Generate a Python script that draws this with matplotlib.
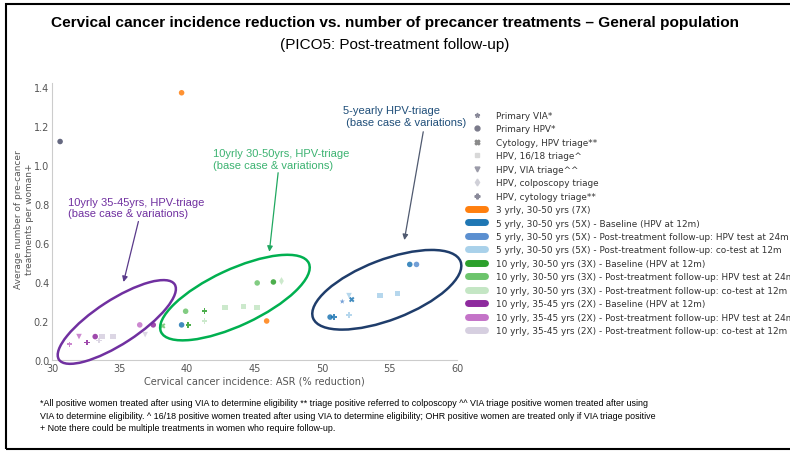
import matplotlib
matplotlib.use("Agg")
import matplotlib.pyplot as plt
from matplotlib.patches import Ellipse
from matplotlib.lines import Line2D
from matplotlib.transforms import ScaledTranslation

# ---------------- data ----------------
strategy_labels = ["Primary VIA*", "Primary HPV*", "Cytology, HPV triage**", "HPV, 16/18 triage^",
                   "HPV, VIA triage^^", "HPV, colposcopy triage", "HPV, cytology triage**"]
strategy_markers = ["*", "o", "X", "s", "v", "d", "P"]
strategy_greys = ["#8a8a9a", "#7a7a8a", "#8a8a8a", "#d8d8d8", "#9a9aa8", "#d0d0d8", "#8a8a9a"]

scenario_labels = ["3 yrly, 30-50 yrs (7X)",
                   "5 yrly, 30-50 yrs (5X) - Baseline (HPV at 12m)",
                   "5 yrly, 30-50 yrs (5X) - Post-treatment follow-up: HPV test at 24m",
                   "5 yrly, 30-50 yrs (5X) - Post-treatment follow-up: co-test at 12m",
                   "10 yrly, 30-50 yrs (3X) - Baseline (HPV at 12m)",
                   "10 yrly, 30-50 yrs (3X) - Post-treatment follow-up: HPV test at 24m",
                   "10 yrly, 30-50 yrs (3X) - Post-treatment follow-up: co-test at 12m",
                   "10 yrly, 35-45 yrs (2X) - Baseline (HPV at 12m)",
                   "10 yrly, 35-45 yrs (2X) - Post-treatment follow-up: HPV test at 24m",
                   "10 yrly, 35-45 yrs (2X) - Post-treatment follow-up: co-test at 12m"]
scenario_colors = ["#ff7f0e", "#1f77b4", "#5b8fd0", "#a9d1ea", "#2ca02c", "#6cc46c",
                   "#c4e6c4", "#8e2a9e", "#c473c8", "#d6cfe0"]

# points: x = incidence reduction (%), y = treatments per woman, scenario index, strategy index
pt_x = [39.6, 45.9, 30.6,
        50.6, 50.9, 56.5, 57.0, 51.5, 52.2, 52.0, 52.0, 55.6, 54.3,
        39.6, 40.1, 38.2, 46.4, 45.2, 39.9, 41.3, 41.3, 47.0, 45.2, 44.2, 42.8,
        32.6, 33.2, 37.5, 31.3, 32.0, 33.5, 36.5, 36.9, 34.5, 33.7]
pt_y = [1.37, 0.20, 1.12,
        0.22, 0.22, 0.49, 0.49, 0.30, 0.31, 0.33, 0.23, 0.34, 0.33,
        0.18, 0.18, 0.175, 0.40, 0.395, 0.25, 0.25, 0.20, 0.405, 0.27, 0.275, 0.27,
        0.09, 0.12, 0.18, 0.08, 0.12, 0.10, 0.18, 0.13, 0.12, 0.12]
pt_scen = [0, 0, 1,
           1, 1, 1, 2, 2, 1, 3, 3, 3, 3,
           1, 4, 5, 4, 5, 5, 4, 6, 6, 6, 6, 6,
           7, 7, 7, 8, 8, 9, 8, 9, 9, 9]
pt_strat = [1, 1, 1,
            1, 6, 1, 1, 0, 2, 4, 6, 3, 3,
            1, 6, 2, 1, 1, 1, 6, 6, 5, 3, 3, 3,
            6, 1, 1, 6, 4, 6, 1, 4, 3, 3]
pt_override_color = {2: "#4a4e6a"}

# ---------------- figure ----------------
W, H = 790, 452
fig = plt.figure(figsize=(W / 100, H / 100), dpi=100)
fig.patch.set_facecolor("white")

# slide frame
fig.add_artist(plt.Rectangle((6 / W, 2 / H), 790 / W, 445 / H, transform=fig.transFigure,
                             fill=False, ec="black", lw=1.5))

fig.text(0.5, 1 - 23 / H, "Cervical cancer incidence reduction vs. number of precancer treatments \u2013 General population",
         ha="center", va="center", fontsize=11.05, fontweight="bold", family="Liberation Sans")
fig.text(0.5, 1 - 45 / H, "(PICO5: Post-treatment follow-up)", ha="center", va="center",
         fontsize=11, family="Liberation Sans")

ax = fig.add_axes([52 / W, (H - 361) / H, 405 / W, 277 / H])
ax.set_xlim(30, 60)
ax.set_ylim(0, 1.42)
for s in ["top", "right"]:
    ax.spines[s].set_visible(False)
for s in ["left", "bottom"]:
    ax.spines[s].set_color("#cccccc")
    ax.spines[s].set_linewidth(0.8)
ax.set_xticks([30, 35, 40, 45, 50, 55, 60])
ax.set_yticks([0.0, 0.2, 0.4, 0.6, 0.8, 1.0, 1.2, 1.4])
ax.set_yticklabels(["0.0", "0.2", "0.4", "0.6", "0.8", "1.0", "1.2", "1.4"])
ax.tick_params(length=0, labelsize=7, labelcolor="#555555", pad=2)
ax.set_xlabel("Cervical cancer incidence: ASR (% reduction)", fontsize=7, color="#555555", labelpad=2)
ax.set_ylabel("Average number of pre-cancer\ntreatments per woman+", fontsize=6.5, color="#555555")
ax.yaxis.set_label_coords(-0.045, 0.51)

for i, (x, y, sc, st) in enumerate(zip(pt_x, pt_y, pt_scen, pt_strat)):
    col = pt_override_color.get(i, scenario_colors[sc])
    ax.scatter(x, y, marker=strategy_markers[st], s=16, color=col,
               edgecolors="none", alpha=0.85, zorder=3)

# ellipses (size in pixels, placed at data centres)
ell_cx = [34.8, 43.55, 54.8]
ell_cy = [0.195, 0.32, 0.36]
ell_w = [138, 163, 158]
ell_h = [44, 56, 60]
ell_ang = [33, 25, 21]
ell_col = ["#7030a0", "#00b050", "#1f3d6b"]
for cx, cy, w, h, a, c in zip(ell_cx, ell_cy, ell_w, ell_h, ell_ang, ell_col):
    tr = fig.dpi_scale_trans + ScaledTranslation(cx, cy, ax.transData)
    fig.add_artist(Ellipse((0, 0), w / 100, h / 100, angle=a, transform=tr,
                           fill=False, ec=c, lw=1.8, zorder=5))

# annotations
ann_text = ["10yrly 35-45yrs, HPV-triage\n(base case & variations)",
            "10yrly 30-50yrs, HPV-triage\n(base case & variations)",
            "5-yearly HPV-triage\n (base case & variations)"]
ann_txy = [(31.2, 0.835), (41.95, 1.085), (51.55, 1.305)]
ann_from = [(36.4, 0.71), (46.75, 0.96), (57.5, 1.17)]
ann_to = [(35.3, 0.40), (46.1, 0.555), (56.1, 0.615)]
ann_col = ["#7030a0", "#3cb371", "#1f4e79"]
arr_col = ["#5a3a8a", "#20a860", "#505a70"]
for t, txy, f, to, c, ac in zip(ann_text, ann_txy, ann_from, ann_to, ann_col, arr_col):
    ax.text(txy[0], txy[1], t, color=c, fontsize=8, family="Liberation Sans", va="top", ha="left",
            linespacing=1.15)
    ax.annotate("", xy=to, xytext=f, arrowprops=dict(arrowstyle="-|>", color=ac, lw=0.9,
                                                     mutation_scale=8, shrinkA=0, shrinkB=0))

# legend
handles = []
for lab, m, g in zip(strategy_labels, strategy_markers, strategy_greys):
    handles.append(Line2D([], [], ls="none", marker=m, color=g, markersize=3.5, label=lab))
for lab, c in zip(scenario_labels, scenario_colors):
    handles.append(Line2D([], [], color=c, lw=5, solid_capstyle="round", label=lab))
fig.legend(handles=handles, loc="upper left", bbox_to_anchor=(468 / W, 1 - 112 / H),
           frameon=False, fontsize=6.4, handlelength=1.95, handletextpad=1.15,
           labelspacing=0.5, borderaxespad=0, borderpad=0, labelcolor="#333333")

# footnote
foot = ["*All positive women treated after using VIA to determine eligibility ** triage positive referred to colposcopy ^^ VIA triage positive women treated after using",
        "VIA to determine eligibility. ^ 16/18 positive women treated after using VIA to determine eligibility; OHR positive women are treated only if VIA triage positive",
        "+ Note there could be multiple treatments in women who require follow-up."]
for i, line in enumerate(foot):
    fig.text(40 / W, 1 - (404 + 12.5 * i) / H, line, fontsize=6.36, va="center", ha="left",
             family=["Liberation Sans Narrow", "Liberation Sans"])

fig.savefig("out.png", dpi=100)
